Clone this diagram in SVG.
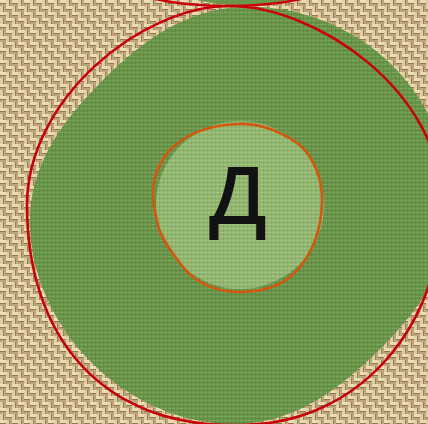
<svg xmlns="http://www.w3.org/2000/svg" width="428" height="424" viewBox="0 0 428 424">
  <defs>
    <pattern id="burlap" width="12" height="12" patternUnits="userSpaceOnUse">
      <rect width="12" height="12" fill="#bda57b"/>
      <rect x="0" y="0" width="6" height="3" fill="#eddcb3"/>
      <rect x="6" y="6" width="6" height="3" fill="#eddcb3"/>
      <rect x="6" y="0" width="3" height="6" fill="#e0cda2"/>
      <rect x="0" y="6" width="3" height="6" fill="#e0cda2"/>
      <rect x="0" y="3" width="6" height="1" fill="#8d7852"/>
      <rect x="6" y="9" width="6" height="1" fill="#8d7852"/>
      <rect x="9" y="0" width="1" height="6" fill="#94805a"/>
      <rect x="3" y="6" width="1" height="6" fill="#94805a"/>
    </pattern>
    <pattern id="weave" width="4" height="4" patternUnits="userSpaceOnUse">
      <rect x="0" y="0" width="3" height="1" fill="#ffffff" opacity="0.12"/>
      <rect x="3" y="1" width="1" height="3" fill="#000000" opacity="0.10"/>
      <rect x="0" y="2" width="2" height="1" fill="#000000" opacity="0.07"/>
    </pattern>
    <path id="outer-shape" d="M240,7 C294.2,4.2 351,24.8 391,64 C431,103.2 454.6,160.7 452,215 C449.4,269.3 417,312.6 377,352 C337,391.4 293.8,421.9 240,424 C186.2,426.1 131.6,402.4 92,363 C52.4,323.6 27.7,268.6 30,215 C32.3,161.4 64.4,118.2 104,79 C143.6,39.8 185.8,9.8 240,7 Z"/>
  </defs>
  <style>
    .red { fill: none; stroke: #c8000a; stroke-width: 2.6; }
    .orange { fill: none; stroke: #d2580f; stroke-width: 2.6; }
    .green { fill: #6a9749; }
    .light { fill: #95ba72; }
    .tex { fill: url(#weave); }
    .label { font-family: "Open Sans", "Noto Sans", "DejaVu Sans", sans-serif; font-weight: 600; font-size: 80px; fill: #121212; }
  </style>
  <rect width="428" height="424" fill="url(#burlap)"/>

  <g id="top-node">
    <ellipse class="green" cx="243" cy="-22" rx="80" ry="27"/>
    <ellipse class="red" cx="228" cy="-22" rx="110" ry="28"/>
  </g>

  <g id="outer-node">
    <use href="#outer-shape" class="green"/>
    <use href="#outer-shape" class="tex"/>
    <path class="red" d="M230,6 C315,6 442,90 442,205 C442,325 360,425 240,425 C100,428 27,335 27,205 C27,100 140,6 230,6 Z"/>
  </g>

  <g id="inner-node">
    <circle class="light" cx="240" cy="205" r="84"/>
    <circle class="tex" cx="240" cy="205" r="84"/>
    <path class="orange" d="M237,124 C252,123 263,126 273,130 C292,138 302,146 307,153 C318,168 322,184 322,200 C322,235 308,262 290,277 C275,289 258,292 240,292 C210,292 190,278 180,263 C166,245 158,232 157,220 C154,208 152,198 153,187 C156,170 162,157 173,147 C190,132 212,125 237,124 Z"/>
    <text class="label" x="238" y="224" text-anchor="middle">Д</text>
  </g>

  <g id="connectors"/>
</svg>
